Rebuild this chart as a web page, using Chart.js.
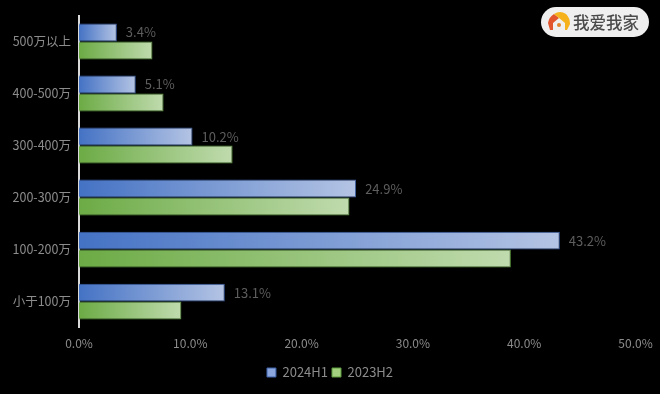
<!DOCTYPE html>
<html>
<head>
<meta charset="utf-8">
<style>
  html, body { margin: 0; padding: 0; background: #000; }
  #wrap { position: relative; width: 660px; height: 394px; }
  #logo { position: absolute; left: 541px; top: 7px; width: 108px; height: 30px; border-radius: 15px; background: #efefef;
          font: 500 16.5px "Noto Sans CJK SC", sans-serif; color: #4a4a4a; line-height: 30px; }
  #logo svg { position: absolute; left: 6px; top: 4px; }
  #logo span { position: absolute; left: 32px; top: 0; white-space: nowrap; }
</style>
</head>
<body>
<div id="wrap">
  <canvas id="chart" width="660" height="394"></canvas>
  <div id="logo">
    <svg width="24" height="22" viewBox="0 0 24 22">
      <path d="M1 12 Q2 6 7 3 L12 7 L6 12 L6 19 L3 19 Z" fill="#e2542c"/>
      <path d="M7 3 Q13 -1 19 3 Q23 7 23 13 L20 19 L18 19 L18 12 L12 7 Z" fill="#f5b21d"/>
      <circle cx="12" cy="14" r="2" fill="#e2842c"/>
    </svg>
    <span>我爱我家</span>
  </div>
</div>
<script src="https://cdn.jsdelivr.net/npm/chart.js@4/dist/chart.umd.min.js"></script>
<script>
const CATEGORIES = ["500万以上", "400-500万", "300-400万", "200-300万", "100-200万", "小于100万"];
const H1_2024 = [3.4, 5.1, 10.2, 24.9, 43.2, 13.1];
const H2_2023 = [6.6, 7.6, 13.8, 24.3, 38.8, 9.2];
const X_TICKS_MAX = 50;

const FONT = '"Noto Sans CJK SC", sans-serif';
const TEXT = "#8c8c8c";

// each bar fades from its base to its own tip
function barGradient(from, to) {
  return function (c) {
    const chart = c.chart;
    if (!chart.chartArea || c.parsed === undefined) return from;
    const x = chart.scales.x;
    const g = chart.ctx.createLinearGradient(x.getPixelForValue(0), 0, x.getPixelForValue(c.parsed.x), 0);
    g.addColorStop(0, from);
    g.addColorStop(1, to);
    return g;
  };
}

const valueLabels = {
  id: "valueLabels",
  afterDatasetsDraw(chart) {
    const ctx = chart.ctx;
    ctx.save();
    ctx.font = "13px " + FONT;
    ctx.fillStyle = "#5e5e5e";
    ctx.textAlign = "left";
    ctx.textBaseline = "middle";
    chart.getDatasetMeta(0).data.forEach((bar, i) => {
      ctx.fillText(H1_2024[i].toFixed(1) + "%", bar.x + 9, bar.y);
    });
    ctx.restore();
  }
};

new Chart(document.getElementById("chart"), {
  type: "bar",
  plugins: [valueLabels],
  data: {
    labels: CATEGORIES,
    datasets: [
      {
        label: "2024H1",
        data: H1_2024,
        backgroundColor: barGradient("#4472c4", "#b4c4e4"),
        borderColor: "#3a5fa8",
        borderWidth: 1
      },
      {
        label: "2023H2",
        data: H2_2023,
        backgroundColor: barGradient("#6cab45", "#c0dbae"),
        borderColor: "#5d9a3c",
        borderWidth: 1
      }
    ]
  },
  options: {
    indexAxis: "y",
    responsive: false,
    animation: false,
    categoryPercentage: 0.69,
    barPercentage: 1,
    layout: { padding: { top: 14, right: 0, left: 0, bottom: 5 } },
    scales: {
      x: {
        min: 0,
        max: X_TICKS_MAX,
        grid: { display: false, drawTicks: false },
        border: { display: false },
        // keep the right margin on the axis so the legend stays centred on the page
        afterFit(s) { s.height += 2; s.paddingRight = 24.5; },
        ticks: {
          stepSize: 10,
          color: TEXT,
          font: { family: FONT, size: 12 },
          padding: 9,
          maxRotation: 0,
          callback: v => v.toFixed(1) + "%"
        }
      },
      y: {
        grid: { display: false, drawTicks: false },
        border: { display: true, color: "#d9d9d9", width: 2 },
        afterFit(s) { s.width = 79; },
        ticks: {
          color: TEXT,
          font: { family: FONT, size: 12.5 },
          padding: 8,
          autoSkip: false
        }
      }
    },
    plugins: {
      tooltip: { enabled: false },
      legend: {
        position: "bottom",
        labels: {
          color: TEXT,
          font: { family: FONT, size: 13 },
          boxWidth: 9,
          boxHeight: 9,
          padding: 4,
          generateLabels() {
            return [
              { text: "2024H1", fillStyle: "#8aa6dc", strokeStyle: "#3a5fa8", lineWidth: 1, fontColor: TEXT },
              { text: "2023H2", fillStyle: "#a3d07e", strokeStyle: "#5d9a3c", lineWidth: 1, fontColor: TEXT }
            ];
          }
        }
      }
    }
  }
});
</script>
</body>
</html>
